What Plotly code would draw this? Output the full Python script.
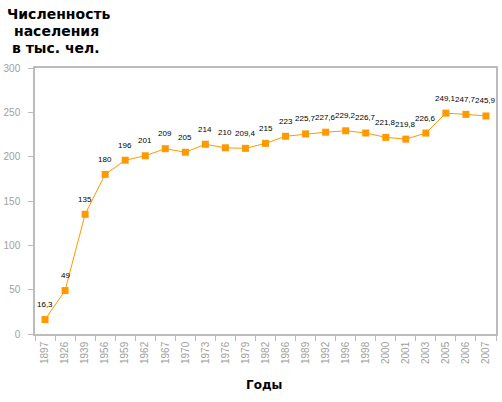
import plotly.graph_objects as go

years = ["1897", "1926", "1939", "1956", "1959", "1962", "1967", "1970", "1973",
         "1976", "1979", "1982", "1986", "1989", "1992", "1996", "1998", "2000",
         "2001", "2003", "2005", "2006", "2007"]
population = [16.3, 49, 135, 180, 196, 201, 209, 205, 214, 210, 209.4, 215, 223,
              225.7, 227.6, 229.2, 226.7, 221.8, 219.8, 226.6, 249.1, 247.7, 245.9]

# labels with decimal comma like the original
labels = [f"{v:g}".replace(".", ",") for v in population]

W, H = 502, 402
ml, mr, mt, mb = 35, 4, 68, 68
pw = W - ml - mr
ph = H - mt - mb


def px_x(x):
    return (x - ml) / pw


def px_y(y):
    return (H - mb - y) / ph


fig = go.Figure()
fig.add_trace(go.Scatter(
    x=years,
    y=population,
    mode="lines+markers",
    line=dict(color="#ff9900", width=1),
    marker=dict(symbol="square", size=7, color="#ff9900"),
    cliponaxis=False,
    hoverinfo="x+y",
))

# value labels a bit above each point (x = category index on the category axis)
for i, (v, lab) in enumerate(zip(population, labels)):
    fig.add_annotation(x=i, y=v, text=lab, showarrow=False, yshift=15,
                       font=dict(family="Liberation Sans, Arial", size=8, color="#000000"))

axis_gray = "#bcbcbc"
tick_font = dict(family="Liberation Sans, Arial", size=10, color="#a0a0a0")
fig.update_layout(
    width=W, height=H,
    margin=dict(l=ml, r=mr, t=mt, b=mb),
    paper_bgcolor="white",
    plot_bgcolor="white",
    showlegend=False,
    xaxis=dict(
        type="category",
        range=[-0.5, len(years) - 0.5],
        tickson="boundaries",
        ticks="outside", ticklen=5, tickcolor=axis_gray,
        showline=True, linecolor=axis_gray, linewidth=1.5, mirror=True,
        showgrid=False,
        tickangle=-90,
        ticklabelstandoff=2,
        tickfont=tick_font,
    ),
    yaxis=dict(
        range=[0, 300], dtick=50,
        ticks="outside", ticklen=5, tickcolor=axis_gray,
        showline=True, linecolor=axis_gray, linewidth=1.5, mirror=True,
        showgrid=False, zeroline=False,
        ticklabelstandoff=6,
        tickfont=tick_font,
    ),
)

# y-axis title, three lines like the original
for txt, x0, y0 in [("Численность", 5, 14), ("населения", 12, 31), ("в тыс. чел.", 10, 48)]:
    fig.add_annotation(text=f"<b>{txt}</b>", xref="paper", yref="paper",
                       x=px_x(x0), y=px_y(y0), xanchor="left", yanchor="middle",
                       showarrow=False,
                       font=dict(family="DejaVu Sans", size=14, color="#000000"))

fig.add_annotation(text="<b>Годы</b>", xref="paper", yref="paper",
                   x=px_x(265), y=px_y(385), xanchor="center", yanchor="middle",
                   showarrow=False,
                   font=dict(family="DejaVu Sans", size=12, color="#000000"))

fig.write_html("out.html", config={"displayModeBar": False},
               post_script="document.body.style.margin='0';document.body.style.overflow='hidden';")
